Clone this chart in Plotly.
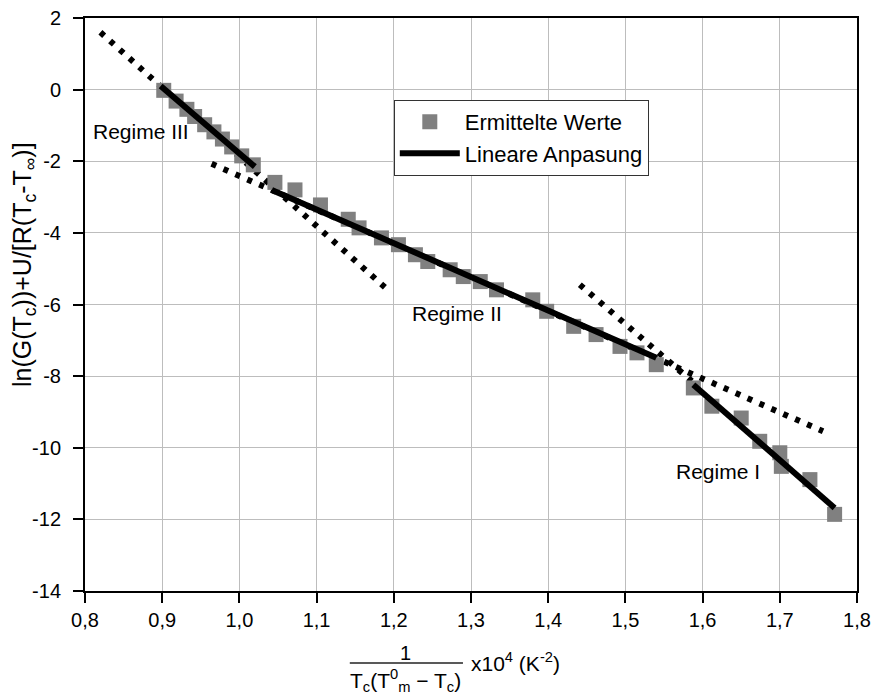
import plotly.graph_objects as go

# Measured points (Ermittelte Werte)
x_pts = [0.902, 0.918, 0.932, 0.942, 0.955, 0.967, 0.978, 0.990, 1.003, 1.018,
         1.046, 1.072, 1.105, 1.141, 1.155, 1.184, 1.206, 1.228, 1.244, 1.273,
         1.290, 1.312, 1.333, 1.380, 1.398, 1.433, 1.462, 1.493, 1.515, 1.540,
         1.588, 1.612, 1.650, 1.674, 1.700, 1.702, 1.739, 1.771]
y_pts = [-0.02, -0.32, -0.55, -0.75, -0.98, -1.18, -1.38, -1.60, -1.85, -2.10,
         -2.59, -2.80, -3.22, -3.62, -3.86, -4.14, -4.33, -4.61, -4.80, -5.03,
         -5.22, -5.36, -5.59, -5.87, -6.19, -6.61, -6.84, -7.17, -7.35, -7.68,
         -8.33, -8.84, -9.17, -9.82, -10.14, -10.52, -10.89, -11.86]

# Linear fits (endpoints) per regime
fit3_x = [0.898, 1.020]; fit3_y = [0.10, -2.15]
fit2_x = [1.042, 1.540]; fit2_y = [-2.80, -7.49]
fit1_x = [1.588, 1.771]; fit1_y = [-8.24, -11.68]

# Dotted extensions
ext3_x = [0.820, 1.190]; ext3_y = [1.60, -5.55]
ext2_x = [0.964, 1.756]; ext2_y = [-2.07, -9.54]
ext1_x = [1.441, 1.586]; ext1_y = [-5.45, -8.14]

y_ticks = [2, 0, -2, -4, -6, -8, -10, -12, -14]
y_ticktext = ["2", "0", "-2", "-4", "-6", "-8", "-10", "-12", "-14"]

regime_labels = ["Regime III", "Regime II", "Regime I"]
regime_x = [0.872, 1.2815, 1.620]
regime_y = [-1.18, -6.24, -10.65]

FONT = "Liberation Sans, Arial, sans-serif"

fig = go.Figure()

dot = dict(color="black", width=6, dash="5px,8px")
for ex, ey in [(ext3_x, ext3_y), (ext2_x, ext2_y), (ext1_x, ext1_y)]:
    fig.add_trace(go.Scatter(x=ex, y=ey, mode="lines", line=dot,
                             showlegend=False, hoverinfo="skip"))

fig.add_trace(go.Scatter(x=x_pts, y=y_pts, mode="markers",
                         marker=dict(symbol="square", size=15, color="#808080"),
                         name="Ermittelte Werte"))

for i, (fx, fy) in enumerate([(fit3_x, fit3_y), (fit2_x, fit2_y), (fit1_x, fit1_y)]):
    fig.add_trace(go.Scatter(x=fx, y=fy, mode="lines",
                             line=dict(color="black", width=6),
                             name="Lineare Anpasung", showlegend=(i == 0),
                             legendgroup="fit"))

for t, rx, ry in zip(regime_labels, regime_x, regime_y):
    fig.add_annotation(x=rx, y=ry, text=t, showarrow=False,
                       xanchor="center", yanchor="middle",
                       font=dict(size=21, color="black", family=FONT))

# X-axis title as fraction
fig.add_annotation(xref="paper", yref="paper", x=0.4158, y=-0.108, text="1",
                   xanchor="center", yanchor="middle",
                   showarrow=False, font=dict(size=20, color="black", family=FONT))
fig.add_shape(type="line", xref="paper", yref="paper", x0=0.343, x1=0.4896,
              y0=-0.1257, y1=-0.1257, line=dict(color="#222", width=1.5))
fig.add_annotation(xref="paper", yref="paper", x=0.4158, y=-0.157,
                   xanchor="center", yanchor="middle",
                   text="T<sub>c</sub>(T<sup>0</sup><sub>m</sub> − T<sub>c</sub>)",
                   showarrow=False, font=dict(size=21, color="black", family=FONT))
fig.add_annotation(xref="paper", yref="paper", x=0.4974, y=-0.1239,
                   xanchor="left", yanchor="middle",
                   text="x10<sup>4</sup> (K<sup>-2</sup>)",
                   showarrow=False, font=dict(size=21, color="black", family=FONT))

# Y-axis title
fig.add_annotation(xref="paper", yref="paper", x=-0.079, y=0.569, textangle=-90,
                   xanchor="center", yanchor="middle",
                   text="ln(G(T<sub>c</sub>))+U/[R(T<sub>c</sub>-T<sub>∞</sub>)]",
                   showarrow=False, font=dict(size=25, color="black", family=FONT))

fig.update_layout(
    width=874, height=695,
    margin=dict(l=85, r=17, t=18, b=104, autoexpand=False),
    paper_bgcolor="white", plot_bgcolor="white",
    separators=",.",
    font=dict(family=FONT, color="black", size=20),
    legend=dict(x=0.400, y=0.857, xanchor="left", yanchor="top",
                bordercolor="#333", borderwidth=1, bgcolor="white",
                font=dict(size=22, family=FONT, color="black"),
                itemwidth=60, tracegroupgap=0),
    xaxis=dict(range=[0.8, 1.8], dtick=0.1, tick0=0.8, tickformat=".1f",
               showgrid=True, gridcolor="#bdbdbd", gridwidth=1,
               showline=True, linecolor="black", linewidth=2, mirror=True,
               ticks="outside", ticklen=10, tickwidth=2, tickcolor="black",
               zeroline=False, tickfont=dict(size=20), automargin=False),
    yaxis=dict(range=[-14, 2], tickvals=y_ticks, ticktext=y_ticktext,
               showgrid=True, gridcolor="#bdbdbd", gridwidth=1,
               showline=True, linecolor="black", linewidth=2, mirror=True,
               ticks="outside", ticklen=10, tickwidth=2, tickcolor="black",
               ticklabelstandoff=8,
               zeroline=False, tickfont=dict(size=20), automargin=False),
)

fig.write_html("out.html")
